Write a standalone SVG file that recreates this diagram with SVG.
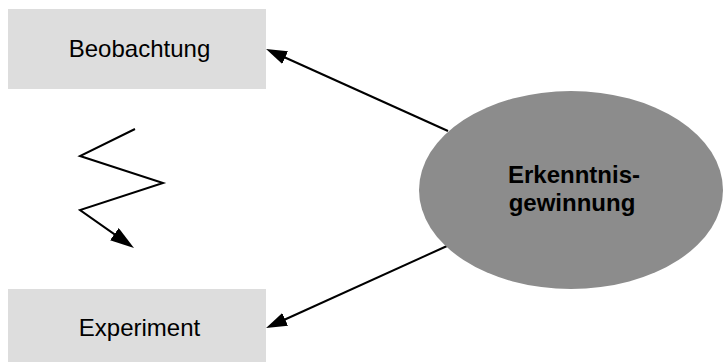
<svg xmlns="http://www.w3.org/2000/svg" width="723" height="362" viewBox="0 0 723 362">
<style>
.box{fill:#dddddd;stroke:none}
.lbl{font-family:"Liberation Sans",Arial,sans-serif;font-size:24px;fill:#000;text-anchor:middle}
.bold{font-weight:bold}
.conn{fill:none;stroke:#000;stroke-width:2;marker-end:url(#ah)}
.zig{fill:none;stroke:#000;stroke-width:2;stroke-linejoin:miter;marker-end:url(#ah2)}
</style>
<defs>
<marker id="ah" markerUnits="userSpaceOnUse" markerWidth="21" markerHeight="14" refX="16" refY="7" orient="auto" viewBox="0 0 21 14">
<path d="M0,0 L21,7 L0,14 z" fill="#000"/>
</marker>
<marker id="ah2" markerUnits="userSpaceOnUse" markerWidth="24" markerHeight="15" refX="19" refY="7.5" orient="auto" viewBox="0 0 24 15">
<path d="M0,0 L24,7.5 L0,15 z" fill="#000"/>
</marker>
</defs>
<rect width="723" height="362" fill="#fff"/>
<g id="beobachtung">
<rect class="box" x="8" y="9" width="258" height="80"/>
<text class="lbl" x="139.5" y="57">Beobachtung</text>
</g>
<g id="experiment">
<rect class="box" x="8" y="289" width="258" height="80"/>
<text class="lbl" x="139.5" y="336">Experiment</text>
</g>
<g id="connectors">
<path class="conn" d="M448,131 L270.6,51"/>
<path class="conn" d="M447,246 L270.6,326"/>
<path class="zig" d="M135,129 L80,156 L163,183 L80,210 L129.9,245.1"/>
</g>
<g id="erkenntnisgewinnung">
<ellipse cx="571" cy="190" rx="152" ry="99" fill="#8c8c8c"/>
<text class="lbl bold" x="574" y="183">Erkenntnis-</text>
<text class="lbl bold" x="572" y="211">gewinnung</text>
</g>
</svg>
